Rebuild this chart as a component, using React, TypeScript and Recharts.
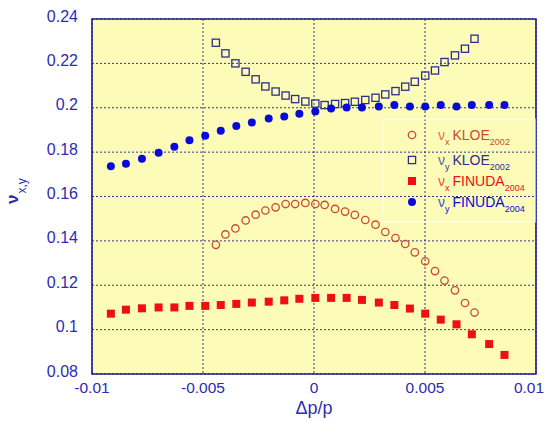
import React from "react";
import { ScatterChart, Scatter, XAxis, YAxis, CartesianGrid, ReferenceArea } from "recharts";

// dp/p values in units of 1e-3
const finudaDp = [-9.15, -8.47, -7.75, -7.0, -6.29, -5.61, -4.9, -4.2, -3.5, -2.8, -2.04, -1.34, -0.66, 0.06, 0.77, 1.47, 2.16, 2.92, 3.62, 4.32, 5.01, 5.71, 6.42, 7.11, 7.89, 8.58];
const finudaNuX = [0.1072, 0.109, 0.1096, 0.11, 0.11, 0.1107, 0.1107, 0.1111, 0.1116, 0.1122, 0.1126, 0.1132, 0.1139, 0.1143, 0.1143, 0.1143, 0.1134, 0.1122, 0.1111, 0.1095, 0.1072, 0.1045, 0.1024, 0.0979, 0.0935, 0.0886];
const finudaNuY = [0.1736, 0.1748, 0.177, 0.1797, 0.1824, 0.1853, 0.1874, 0.1896, 0.1918, 0.1934, 0.1952, 0.1961, 0.1973, 0.1983, 0.1997, 0.2001, 0.2001, 0.2006, 0.2012, 0.2006, 0.2006, 0.2012, 0.2006, 0.2012, 0.2012, 0.2012];

const kloeDp = [-4.42, -3.99, -3.54, -3.08, -2.63, -2.19, -1.73, -1.28, -0.85, -0.39, 0.06, 0.48, 0.95, 1.4, 1.84, 2.31, 2.77, 3.21, 3.67, 4.11, 4.54, 5.01, 5.45, 5.88, 6.35, 6.8, 7.23];
const kloeNuX = [0.1382, 0.1429, 0.1456, 0.1492, 0.1518, 0.1537, 0.1551, 0.1566, 0.1566, 0.1571, 0.1566, 0.1562, 0.1544, 0.1532, 0.1517, 0.1494, 0.1473, 0.144, 0.1413, 0.1386, 0.1348, 0.1308, 0.1264, 0.1221, 0.1177, 0.112, 0.1077];
const kloeNuY = [0.2293, 0.2245, 0.22, 0.2162, 0.2128, 0.2096, 0.2073, 0.2055, 0.2039, 0.2028, 0.2019, 0.2012, 0.2017, 0.2021, 0.2027, 0.2035, 0.2045, 0.206, 0.2075, 0.2095, 0.2117, 0.2145, 0.2168, 0.2206, 0.2236, 0.2266, 0.2311];

const xTicks = [-0.01, -0.005, 0, 0.005, 0.01];
const yTicks = [0.08, 0.1, 0.12, 0.14, 0.16, 0.18, 0.2, 0.22, 0.24];

const toPoints = (dp: number[], nu: number[]) => dp.map((d, i) => ({ x: d / 1000, y: nu[i] }));

const FONT = "'Liberation Sans', Arial, Helvetica, sans-serif";
const AXIS = "#1e1e8c";
const TEXT = "#2c2cb4";

const C_KLOE_X = "#cc4a2e";
const C_KLOE_Y = "#2e2e8e";
const C_FIN_X = "#ee1010";
const C_FIN_Y = "#0a0ad8";

const series = [
  { key: "kx", label: "x", name: "KLOE", year: "2002", color: C_KLOE_X, data: toPoints(kloeDp, kloeNuX), kind: "openCircle" },
  { key: "ky", label: "y", name: "KLOE", year: "2002", color: C_KLOE_Y, data: toPoints(kloeDp, kloeNuY), kind: "openSquare" },
  { key: "fx", label: "x", name: "FINUDA", year: "2004", color: C_FIN_X, data: toPoints(finudaDp, finudaNuX), kind: "square" },
  { key: "fy", label: "y", name: "FINUDA", year: "2004", color: C_FIN_Y, data: toPoints(finudaDp, finudaNuY), kind: "circle" },
];

const Marker = ({ kind, cx, cy, color }: { kind: string; cx: number; cy: number; color: string }) => {
  if (kind === "openCircle") return <circle cx={cx} cy={cy} r={3.7} fill="none" stroke={color} strokeWidth={1.3} />;
  if (kind === "openSquare") return <rect x={cx - 3.6} y={cy - 3.6} width={7.2} height={7.2} fill="none" stroke={color} strokeWidth={1.3} />;
  if (kind === "square") return <rect x={cx - 4} y={cy - 4} width={8} height={8} fill={color} />;
  return <circle cx={cx} cy={cy} r={4} fill={color} />;
};

const YTick = (p: any) => (
  <text x={78} y={p.y} dy={2.5} textAnchor="end" fill={TEXT} fontSize={16} fontFamily={FONT}>
    {p.payload.value}
  </text>
);

// the last label is nudged left so it stays inside the picture, as in the original
const XTick = (p: any) => (
  <text x={p.payload.value === 0.01 ? p.x - 6 : p.x} y={393} textAnchor="middle" fill={TEXT} fontSize={15.5} fontFamily={FONT}>
    {p.payload.value}
  </text>
);

const legendRows = [135, 160, 181, 202];

export default function App() {
  return (
    <div style={{ position: "absolute", left: 0, top: 0, width: 549, height: 421, background: "#fff", fontFamily: FONT }}>
      <ScatterChart width={549} height={421} margin={{ top: 19, right: 13, bottom: 17, left: 0 }}>
        <CartesianGrid
          fill="#fcfcb8"
          stroke={AXIS}
          strokeDasharray="2 2"
          strokeWidth={0.9}
          horizontalValues={yTicks}
          verticalValues={xTicks}
        />
        <XAxis
          type="number"
          dataKey="x"
          domain={[-0.01, 0.01]}
          ticks={xTicks}
          allowDataOverflow
          height={30}
          axisLine={false}
          tickLine={false}
          tick={<XTick />}
          label={{
            content: () => (
              <text x={314} y={414} textAnchor="middle" fill={TEXT} fontSize={18} fontFamily={FONT}>
                Δp/p
              </text>
            ),
          }}
        />
        <YAxis
          type="number"
          dataKey="y"
          domain={[0.08, 0.24]}
          ticks={yTicks}
          allowDataOverflow
          width={92}
          axisLine={false}
          tickLine={false}
          tick={<YTick />}
          label={{
            content: () => (
              <text transform="translate(18,204) rotate(-90)" textAnchor="start" fill={TEXT} fontFamily={FONT}>
                <tspan fontSize={17} fontWeight="bold">ν</tspan>
                <tspan fontSize={12} dy={8} dx={1}>x,y</tspan>
              </text>
            ),
          }}
        />
        <ReferenceArea x1={-0.01} x2={0.01} y1={0.08} y2={0.24} fill="none" stroke={AXIS} strokeWidth={1.6} ifOverflow="visible" />
        {series.map((s) => (
          <Scatter
            key={s.key}
            data={s.data}
            isAnimationActive={false}
            shape={(p: any) => <Marker kind={s.kind} cx={p.cx} cy={p.cy} color={s.color} />}
          />
        ))}
      </ScatterChart>
      <svg width={549} height={421} style={{ position: "absolute", left: 0, top: 0, pointerEvents: "none" }}>
        <rect x={383} y={119} width={152} height={103} fill="none" stroke="#ffffe6" strokeWidth={1.2} />
        {series.map((s, i) => (
          <g key={s.key}>
            <Marker kind={s.kind} cx={412} cy={legendRows[i]} color={s.color} />
            <text x={438} y={legendRows[i] + 5} fill={s.color} fontFamily={FONT}>
              <tspan fontSize={14} opacity={0.75}>ν</tspan>
              <tspan fontSize={9} dy={5}>{s.label}</tspan>
              <tspan fontSize={14} dy={-5} dx={3}>{s.name}</tspan>
              <tspan fontSize={9} dy={5}>{s.year}</tspan>
            </text>
          </g>
        ))}
      </svg>
    </div>
  );
}
